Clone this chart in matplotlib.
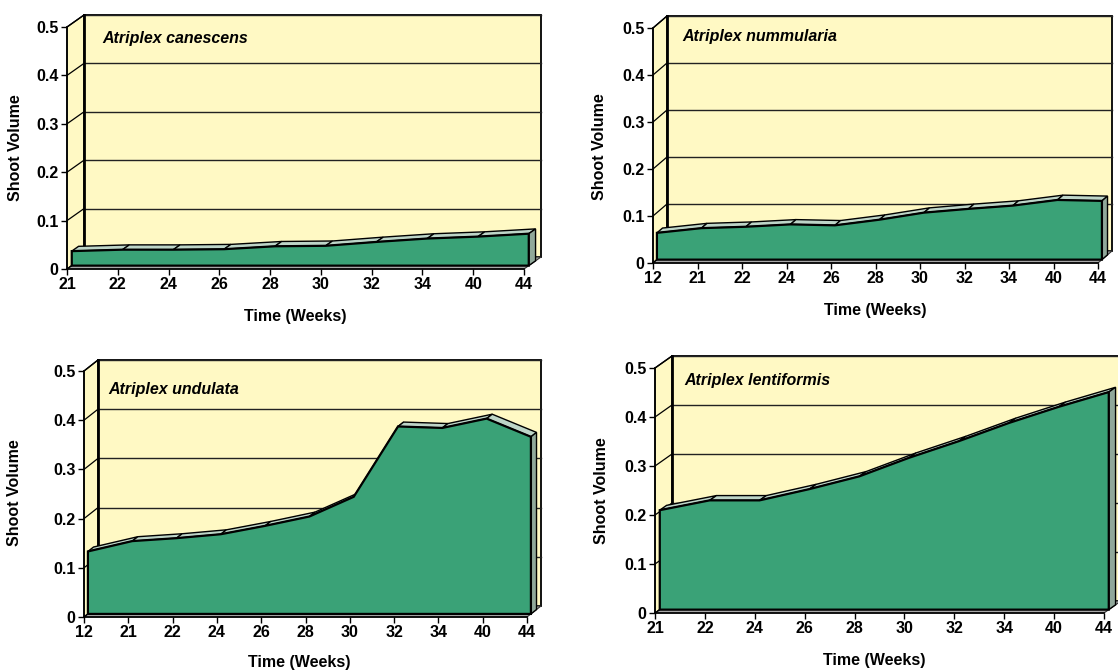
import matplotlib
matplotlib.use("Agg")
import matplotlib.pyplot as plt
import numpy as np
from matplotlib.patches import Polygon

# === Data (shoot volume per sampling week) ===
weeks_a = ["21", "22", "24", "26", "28", "30", "32", "34", "40", "44"]
weeks_b = ["12", "21", "22", "24", "26", "28", "30", "32", "34", "40", "44"]

canescens = [0.030, 0.033, 0.033, 0.034, 0.040, 0.041, 0.049, 0.056, 0.060, 0.066]
nummularia = [0.057, 0.067, 0.070, 0.075, 0.073, 0.085, 0.100, 0.108, 0.115, 0.127, 0.125]
undulata = [0.127, 0.148, 0.154, 0.162, 0.179, 0.198, 0.238, 0.381, 0.378, 0.397, 0.360]
lentiformis = [0.203, 0.223, 0.223, 0.246, 0.272, 0.310, 0.344, 0.381, 0.414, 0.444]

y_ticks = [0, 0.1, 0.2, 0.3, 0.4, 0.5]
y_labels = ["0", "0.1", "0.2", "0.3", "0.4", "0.5"]

# === Style ===
W, H = 1118, 672
WALL = "#FFF9C4"
FRONT = "#3AA277"
TOP = "#BDD5C8"
SIDE = "#90A89A"
FLOOR = "#A8A8A8"
F1, F2 = 0.28, 0.68   # depth of the area band inside the box
FS = 11.5

plt.rcParams["font.family"] = ["Liberation Sans", "DejaVu Sans"]
fig = plt.figure(figsize=(W / 100, H / 100), dpi=100)


def panel(cats, vals, title, box, ylab, xlab, tpos):
    # box = front axis left/right x, zero y, 0.5 y, wall depth (pixels)
    x0, x1, y0, y5, ddx, ddy = box
    n = len(cats)
    sp = (x1 - x0) / (n - 1)
    dx = ddx / sp
    dy = ddy / ((y0 - y5) / 0.5)
    ax = fig.add_axes([x0 / W, 1 - y0 / H, (x1 - x0 + ddx) / W, (y0 - y5 + ddy) / H])
    ax.set_xlim(0, n - 1 + dx)
    ax.set_ylim(0, 0.5 + dy)
    ax.patch.set_visible(False)

    # walls and floor
    ax.add_patch(Polygon([(dx, dy), (n - 1 + dx, dy), (n - 1 + dx, 0.5 + dy), (dx, 0.5 + dy)],
                         fc=WALL, ec="black", lw=1.3, zorder=1, clip_on=False))
    ax.add_patch(Polygon([(0, 0), (dx, dy), (dx, 0.5 + dy), (0, 0.5)],
                         fc=WALL, ec="black", lw=1, zorder=1, clip_on=False))
    ax.add_patch(Polygon([(0, 0), (n - 1, 0), (n - 1 + dx, dy), (dx, dy)],
                         fc=FLOOR, ec="#333333", lw=0.8, zorder=1.5, clip_on=False))
    for v in y_ticks[1:]:
        ax.plot([dx, n - 1 + dx], [v + dy, v + dy], color="#222222", lw=1, zorder=2, clip_on=False)
    for v in y_ticks:
        ax.plot([0, dx], [v, v + dy], color="black", lw=0.9, zorder=2, clip_on=False)
    ax.plot([dx, dx], [dy, 0.5 + dy], color="black", lw=2, zorder=2.2, clip_on=False)

    # 3D area: top faces, right side, front face
    for i in range(n - 1):
        quad = [(i + F1 * dx, vals[i] + F1 * dy), (i + 1 + F1 * dx, vals[i + 1] + F1 * dy),
                (i + 1 + F2 * dx, vals[i + 1] + F2 * dy), (i + F2 * dx, vals[i] + F2 * dy)]
        ax.add_patch(Polygon(quad, fc=TOP, ec="black", lw=1, zorder=3, clip_on=False))
    last = n - 1
    side = [(last + F1 * dx, F1 * dy), (last + F1 * dx, vals[-1] + F1 * dy),
            (last + F2 * dx, vals[-1] + F2 * dy), (last + F2 * dx, F2 * dy)]
    ax.add_patch(Polygon(side, fc=SIDE, ec="black", lw=1, zorder=3, clip_on=False))
    front = [(F1 * dx, F1 * dy)] + [(i + F1 * dx, v + F1 * dy) for i, v in enumerate(vals)] \
        + [(last + F1 * dx, F1 * dy)]
    ax.add_patch(Polygon(front, fc=FRONT, ec="black", lw=1.6, zorder=4, clip_on=False))

    # front axes
    for s in ["top", "right"]:
        ax.spines[s].set_visible(False)
    ax.spines["left"].set_bounds(0, 0.5)
    ax.spines["bottom"].set_bounds(0, n - 1)
    ax.spines["left"].set_linewidth(1.2)
    ax.spines["bottom"].set_linewidth(1.2)
    ax.set_yticks(y_ticks, y_labels)
    ax.set_xticks(np.arange(n), cats)
    ax.tick_params(direction="out", length=4, width=1, labelsize=FS, pad=2)
    for lbl in ax.get_xticklabels() + ax.get_yticklabels():
        lbl.set_fontweight("bold")

    fig.text(ylab[0] / W, 1 - ylab[1] / H, "Shoot Volume", rotation=90,
             ha="center", va="center", fontsize=FS, fontweight="bold")
    fig.text(xlab[0] / W, 1 - xlab[1] / H, "Time (Weeks)",
             ha="center", va="center", fontsize=FS, fontweight="bold")
    fig.text(tpos[0] / W, 1 - tpos[1] / H, title, ha="left", va="center",
             fontsize=FS, fontweight="bold", style="italic")


panel(weeks_a, canescens, "Atriplex canescens", (67, 524, 269, 27, 17, 12),
      (16, 148), (295, 317), (102, 38))
panel(weeks_b, nummularia, "Atriplex nummularia", (653, 1098, 263, 28, 14, 12),
      (599, 147), (875, 310), (682, 37))
panel(weeks_b, undulata, "Atriplex undulata", (84, 527, 617, 371, 14, 11),
      (15, 493), (299, 663), (108, 389))
panel(weeks_a, lentiformis, "Atriplex lentiformis", (655, 1104, 613, 368, 17, 12),
      (601, 491), (874, 660), (684, 381))

fig.savefig("out.png", dpi=100)
